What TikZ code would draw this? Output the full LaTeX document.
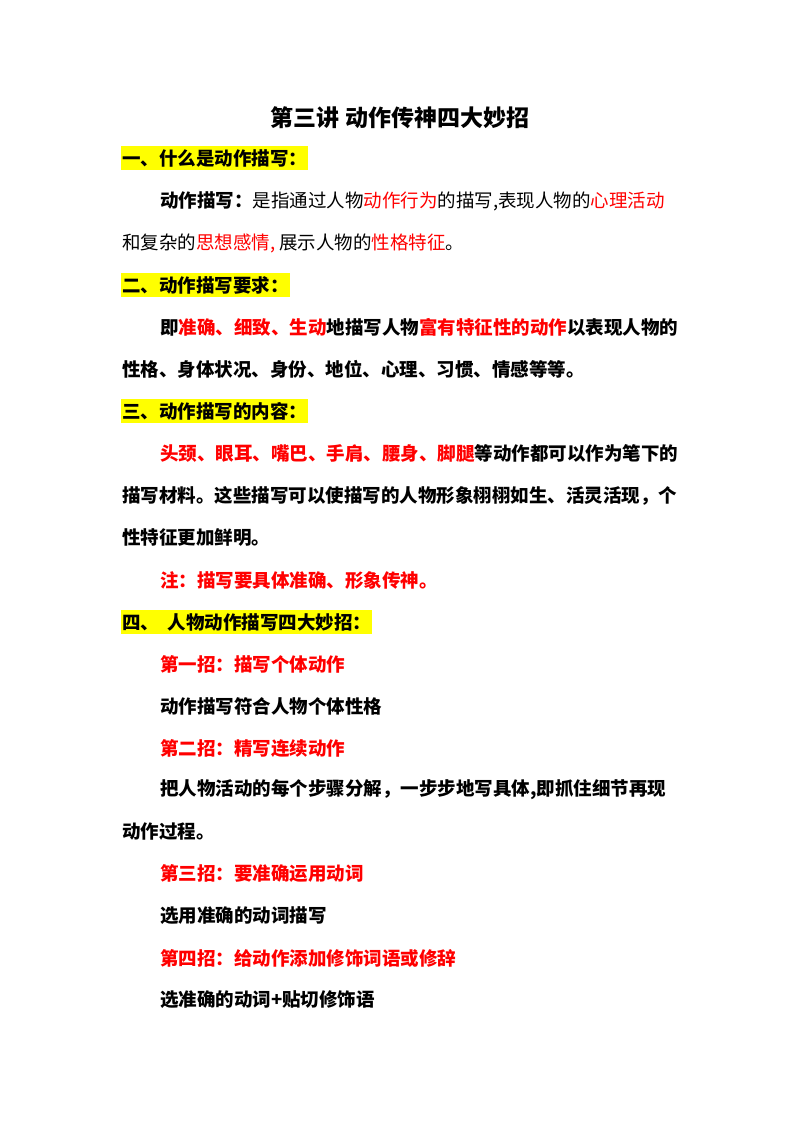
\documentclass[tikz,border=0pt]{standalone}
\usepackage{fontspec}
\setmainfont{Noto Sans CJK SC}
\definecolor{hl}{RGB}{255,255,0}
\definecolor{rd}{RGB}{255,0,0}
\tikzset{x=1pt,y=-1pt,
 txt/.style={anchor=west,inner sep=0pt,font=\fontsize{18.5}{20}\selectfont},
 bt/.style={txt,font=\fontsize{18.5}{20}\selectfont\bfseries},
 hd/.style={bt,fill=hl,inner xsep=1pt,inner ysep=3pt}}
\newcommand{\R}[1]{\textcolor{rd}{#1}}
\begin{document}
\begin{tikzpicture}
\useasboundingbox (0,0) rectangle (800,1132);
\node[anchor=center,font=\fontsize{23}{25}\selectfont\bfseries] (t) at (400,118) {第三讲\ 动作传神四大妙招};
\node[hd] (h1) at (121,158) {一、什么是动作描写：};
\node[txt] (l1) at (160,201) {\textbf{动作描写：}是指通过人物\R{动作行为}的描写,表现人物的\R{心理活动}};
\node[txt] (l2) at (122,243) {和复杂的\R{思想感情,}\ 展示人物的\R{性格特征}。};
\node[hd] (h2) at (121,285) {二、动作描写要求：};
\node[bt] (l3) at (160,327) {即\R{准确、细致、生动}地描写人物\R{富有特征性的动作}以表现人物的};
\node[bt] (l4) at (122,369) {性格、身体状况、身份、地位、心理、习惯、情感等等。};
\node[hd] (h3) at (121,411) {三、动作描写的内容：};
\node[bt] (l5) at (160,453) {\R{头颈、眼耳、嘴巴、手肩、腰身、脚腿}等动作都可以作为笔下的};
\node[bt] (l6) at (122,496) {描写材料。这些描写可以使描写的人物形象栩栩如生、活灵活现，个};
\node[bt] (l7) at (122,538) {性特征更加鲜明。};
\node[bt,text=rd] (l8) at (160,580) {注：描写要具体准确、形象传神。};
\node[hd] (h4) at (121,622) {四、\ \ 人物动作描写四大妙招：};
\node[bt,text=rd] (a1) at (160,664) {第一招：描写个体动作};
\node[bt] (b1) at (160,706) {动作描写符合人物个体性格};
\node[bt,text=rd] (a2) at (160,748) {第二招：精写连续动作};
\node[bt] (b2) at (160,790) {把人物活动的每个步骤分解，一步步地写具体,即抓住细节再现};
\node[bt] (b2b) at (122,832) {动作过程。};
\node[bt,text=rd] (a3) at (160,874) {第三招：要准确运用动词};
\node[bt] (b3) at (160,916) {选用准确的动词描写};
\node[bt,text=rd] (a4) at (160,958) {第四招：给动作添加修饰词语或修辞};
\node[bt] (b4) at (160,1000) {选准确的动词+贴切修饰语};
\end{tikzpicture}
\end{document}
